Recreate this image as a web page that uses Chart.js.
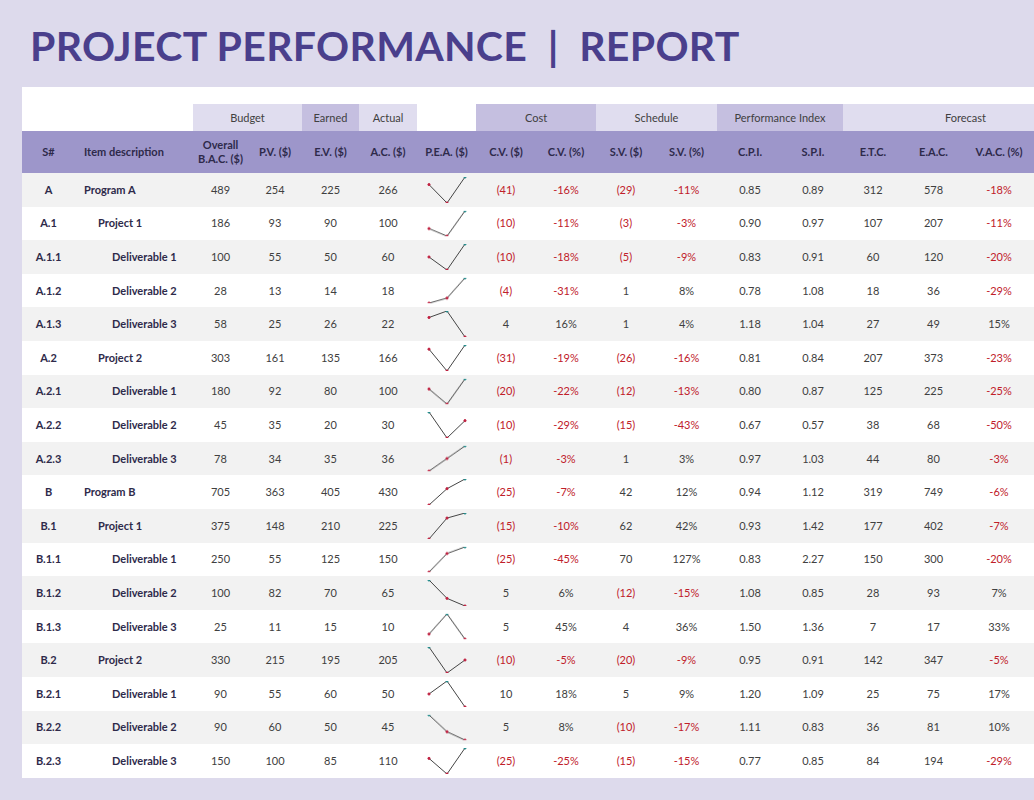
<!DOCTYPE html><html><head><meta charset="utf-8">
<script src="https://cdn.jsdelivr.net/npm/chart.js@4"></script>
<style>
body{margin:0;width:1034px;height:800px;background:#dddaec;font-family:Lato,"Open Sans",sans-serif;position:relative;overflow:hidden}
h1{position:absolute;left:30px;top:21px;margin:0;font-size:41px;font-weight:700;color:#4a3f8c;letter-spacing:0.3px;white-space:pre}
#panel{position:absolute;left:22px;top:87px;width:1012px;height:691px;background:#fff}
.c{position:absolute;display:flex;align-items:center;justify-content:center;font-size:11px;color:#404040;text-align:center;line-height:14px}
.h{font-weight:700;color:#2e2a4a}
.neg{color:#c0202a}
canvas{position:absolute}
</style></head><body>
<h1>PROJECT PERFORMANCE  |  REPORT</h1>
<div id="panel"></div>
<div id="grid"></div>
<script>
const ids=["A","A.1","A.1.1","A.1.2","A.1.3","A.2","A.2.1","A.2.2","A.2.3","B","B.1","B.1.1","B.1.2","B.1.3","B.2","B.2.1","B.2.2","B.2.3"];
const names=["Program A","Project 1","Deliverable 1","Deliverable 2","Deliverable 3","Project 2","Deliverable 1","Deliverable 2","Deliverable 3","Program B","Project 1","Deliverable 1","Deliverable 2","Deliverable 3","Project 2","Deliverable 1","Deliverable 2","Deliverable 3"];
const levels=[0,1,2,2,2,1,2,2,2,0,1,2,2,2,1,2,2,2];
const bac=[489,186,100,28,58,303,180,45,78,705,375,250,100,25,330,90,90,150];
const pv=[254,93,55,13,25,161,92,35,34,363,148,55,82,11,215,55,60,100];
const ev=[225,90,50,14,26,135,80,20,35,405,210,125,70,15,195,60,50,85];
const ac=[266,100,60,18,22,166,100,30,36,430,225,150,65,10,205,50,45,110];
const cv=[-41,-10,-10,-4,4,-31,-20,-10,-1,-25,-15,-25,5,5,-10,10,5,-25];
const cvp=[-16,-11,-18,-31,16,-19,-22,-29,-3,-7,-10,-45,6,45,-5,18,8,-25];
const sv=[-29,-3,-5,1,1,-26,-12,-15,1,42,62,70,-12,4,-20,5,-10,-15];
const svp=[-11,-3,-9,8,4,-16,-13,-43,3,12,42,127,-15,36,-9,9,-17,-15];
const cpi=[0.85,0.90,0.83,0.78,1.18,0.81,0.80,0.67,0.97,0.94,0.93,0.83,1.08,1.50,0.95,1.20,1.11,0.77];
const spi=[0.89,0.97,0.91,1.08,1.04,0.84,0.87,0.57,1.03,1.12,1.42,2.27,0.85,1.36,0.91,1.09,0.83,0.85];
const etc=[312,107,60,18,27,207,125,38,44,319,177,150,28,7,142,25,36,84];
const eac=[578,207,120,36,49,373,225,68,80,749,402,300,93,17,347,75,81,194];
const vac=[-18,-11,-20,-29,15,-23,-25,-50,-3,-6,-7,-20,7,33,-5,17,10,-29];
const groups=[["Budget",193,302,"#e0ddef"],["Earned",302,359,"#c5bfe0"],["Actual",359,417,"#e0ddef"],["Cost",476,596,"#c5bfe0"],["Schedule",596,717,"#e0ddef"],["Performance Index",717,843,"#c5bfe0"],["Forecast",843,1034,"#e0ddef"]];
const heads=["S#","Item description","Overall<br>B.A.C. ($)","P.V. ($)","E.V. ($)","A.C. ($)","P.E.A. ($)","C.V. ($)","C.V. (%)","S.V. ($)","S.V. (%)","C.P.I.","S.P.I.","E.T.C.","E.A.C.","V.A.C. (%)"];
const xs=[22,75,193,248,302,359,417,476,536,596,656,717,783,843,903,964,1034];
const G=document.getElementById('grid');
function cell(x,y,w,h,html,cls,style){const d=document.createElement('div');d.className='c '+(cls||'');d.style.cssText=`left:${x}px;top:${y}px;width:${w}px;height:${h}px;`+(style||'');d.innerHTML=html;G.appendChild(d);return d;}
groups.forEach(g=>{const c=cell(g[1],104,g[2]-g[1],27,g[0],'',`background:${g[3]};`);if(g[0]=="Forecast"){c.style.paddingLeft='54px';c.style.width='137px';}});
cell(22,131,1012,42,'','', 'background:#9d96ca;');
heads.forEach((t,i)=>{let x=xs[i],w=xs[i+1]-xs[i];let c=cell(x,131,w,42,t,'h');if(i==1){c.style.justifyContent='flex-start';c.style.paddingLeft='9px';c.style.width=(w-9)+'px';}});
const top0=173,rh=33.6;
const fmtN=v=>v<0?`<span class="neg">(${-v})</span>`:v;
const fmtP=v=>v<0?`<span class="neg">${v}%</span>`:v+'%';
ids.forEach((id,r)=>{
 const y=top0+r*rh;
 cell(22,y,1012,rh,'','',`background:${r%2==0?'#f2f2f2':'#fff'};`);
 cell(22,y,53,rh,id,'h');
 const n=cell(75,y,150,rh,names[r],'h');n.style.justifyContent='flex-start';n.style.paddingLeft=(9+levels[r]*14)+'px';n.style.width='130px';
 const vals=[bac[r],pv[r],ev[r],ac[r],'',fmtN(cv[r]),fmtP(cvp[r]),fmtN(sv[r]),fmtP(svp[r]),cpi[r].toFixed(2),spi[r].toFixed(2),etc[r],eac[r],fmtP(vac[r])];
 vals.forEach((v,i)=>{const k=i+2;cell(xs[k],y,xs[k+1]-xs[k],rh,v,'');});
});
ids.forEach((id,r)=>{
 const y=top0+r*rh;
 const cv_=document.createElement('canvas');
 cv_.style.cssText=`left:424px;top:${y-1}px;width:46px;height:${rh+2}px;`;
 cv_.width=46;cv_.height=Math.round(rh+2);document.body.appendChild(cv_);
 const d=[pv[r],ev[r],ac[r]];const mx=Math.max(...d),mn=Math.min(...d);
 const colors=d.map(v=>v==mx?'#1f8a8a':'#c02040');
 new Chart(cv_,{type:'line',data:{labels:['PV','EV','AC'],datasets:[{data:d,borderColor:'#454545',borderWidth:1,pointRadius:1.1,pointBackgroundColor:colors,pointBorderColor:colors,tension:0}]},
 options:{responsive:false,animation:false,events:[],layout:{padding:{left:2,right:2,top:1,bottom:1}},plugins:{legend:{display:false},tooltip:{enabled:false}},scales:{x:{display:false},y:{display:false,min:mn,max:mx}}}});
});
</script></body></html>
